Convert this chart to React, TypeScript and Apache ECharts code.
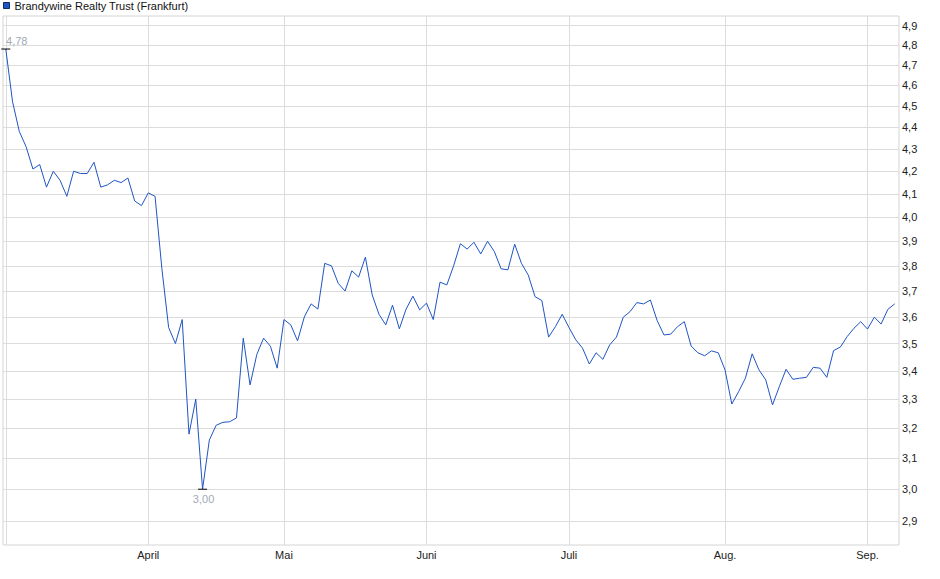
import React, { useEffect, useRef } from "react";
import * as echarts from "echarts";

const seriesName = "Brandywine Realty Trust (Frankfurt)";

// Closing prices (EUR), one per trading day, grouped by month
const marchPrices = [4.78, 4.52, 4.38, 4.31, 4.21, 4.23, 4.13, 4.2, 4.16, 4.09, 4.2, 4.19, 4.19, 4.24, 4.13, 4.14, 4.16, 4.15, 4.17, 4.07, 4.05];
const aprilPrices = [4.105, 4.09, 3.79, 3.56, 3.5, 3.59, 3.18, 3.3, 3.0, 3.16, 3.21, 3.22, 3.222, 3.235, 3.52, 3.35, 3.46, 3.52, 3.49, 3.41];
const mayPrices = [3.59, 3.57, 3.51, 3.6, 3.65, 3.63, 3.81, 3.8, 3.73, 3.7, 3.78, 3.755, 3.835, 3.685, 3.61, 3.57, 3.645, 3.555, 3.63, 3.68, 3.627];
const junePrices = [3.653, 3.59, 3.735, 3.724, 3.8, 3.89, 3.868, 3.896, 3.848, 3.9, 3.858, 3.788, 3.784, 3.888, 3.81, 3.763, 3.678, 3.663, 3.524, 3.563, 3.61];
const julyPrices = [3.56, 3.514, 3.483, 3.425, 3.466, 3.442, 3.495, 3.524, 3.599, 3.62, 3.655, 3.65, 3.665, 3.586, 3.532, 3.535, 3.563, 3.582, 3.491, 3.466, 3.455, 3.473, 3.466];
const augustPrices = [3.404, 3.283, 3.326, 3.374, 3.462, 3.404, 3.368, 3.28, 3.344, 3.406, 3.37, 3.374, 3.377, 3.413, 3.41, 3.377, 3.474, 3.487, 3.526, 3.557, 3.582];
const septemberPrices = [3.554, 3.599, 3.573, 3.629, 3.65];

const monthLabels = ["März", "April", "Mai", "Juni", "Juli", "Aug.", "Sep."];
const monthlyPrices = [marchPrices, aprilPrices, mayPrices, junePrices, julyPrices, augustPrices, septemberPrices];

const yTicks = [2.9, 3.0, 3.1, 3.2, 3.3, 3.4, 3.5, 3.6, 3.7, 3.8, 3.9, 4.0, 4.1, 4.2, 4.3, 4.4, 4.5, 4.6, 4.7, 4.8, 4.9];

const FONT = "'Liberation Sans', Arial, sans-serif";

export default function App() {
  const ref = useRef<HTMLDivElement>(null);

  useEffect(() => {
    document.body.style.margin = "0";
    if (!ref.current) return;
    const chart = echarts.init(ref.current, null, { renderer: "svg" });

    const prices: number[] = [];
    const monthStarts: number[] = [];
    monthlyPrices.forEach((m) => {
      monthStarts.push(prices.length);
      prices.push(...m);
    });
    const points = prices.map((v, i) => [i, v]);
    const labelAt = (v: number) => {
      const k = monthStarts.indexOf(Math.round(v));
      return k > 0 ? monthLabels[k] : "";
    };

    chart.setOption({
      animation: false,
      textStyle: { fontFamily: FONT },
      legend: {
        left: 3,
        top: 0,
        padding: 0,
        icon: "rect",
        itemWidth: 6,
        itemHeight: 6,
        itemGap: 4,
        textStyle: { fontSize: 11, color: "#111", fontFamily: FONT },
        itemStyle: { color: "#1f55c4", borderColor: "#0d2a66", borderWidth: 1 },
        data: [seriesName],
      },
      grid: {
        left: 3,
        top: 16,
        width: 896,
        height: 529,
        show: true,
        borderColor: "#d4d4d4",
        borderWidth: 1,
        backgroundColor: "#fff",
        containLabel: false,
        outerBoundsMode: "none",
      },
      xAxis: {
        type: "value",
        min: -0.41,
        max: 131.64,
        axisLine: { show: false },
        axisTick: { show: false, customValues: monthStarts },
        splitLine: { show: true, lineStyle: { color: "#dcdcdc", width: 1 } },
        axisLabel: {
          customValues: monthStarts.slice(1),
          formatter: (v: number) => labelAt(v),
          fontSize: 11,
          color: "#222",
          margin: 4,
          fontFamily: FONT,
        },
      },
      yAxis: {
        type: "log",
        logBase: 10,
        min: 2.828,
        max: 4.95,
        position: "right",
        axisLine: { show: false },
        axisTick: { show: false, customValues: yTicks },
        splitLine: { show: true, lineStyle: { color: "#dcdcdc", width: 1 } },
        axisLabel: {
          customValues: yTicks,
          formatter: (v: number) => v.toFixed(1).replace(".", ","),
          fontSize: 11,
          color: "#222",
          margin: 3,
          fontFamily: FONT,
        },
      },
      series: [
        {
          name: seriesName,
          type: "line",
          data: points,
          showSymbol: false,
          symbol: "none",
          color: "#1f55c4",
          lineStyle: { color: "#1f55c4", width: 1 },
          markPoint: {
            symbol: "rect",
            symbolSize: [9, 1],
            itemStyle: { color: "#000" },
            label: {
              show: true,
              fontSize: 11,
              color: "#a2a9b7",
              fontFamily: FONT,
              formatter: (p: any) => Number(p.value).toFixed(2).replace(".", ","),
            },
            data: [
              { type: "max", label: { position: "inside", offset: [11, -8] } },
              { type: "min", label: { position: "inside", offset: [1, 10] } },
            ],
          },
        },
      ],
    });

    return () => chart.dispose();
  }, []);

  return <div ref={ref} style={{ width: 940, height: 579 }} />;
}
